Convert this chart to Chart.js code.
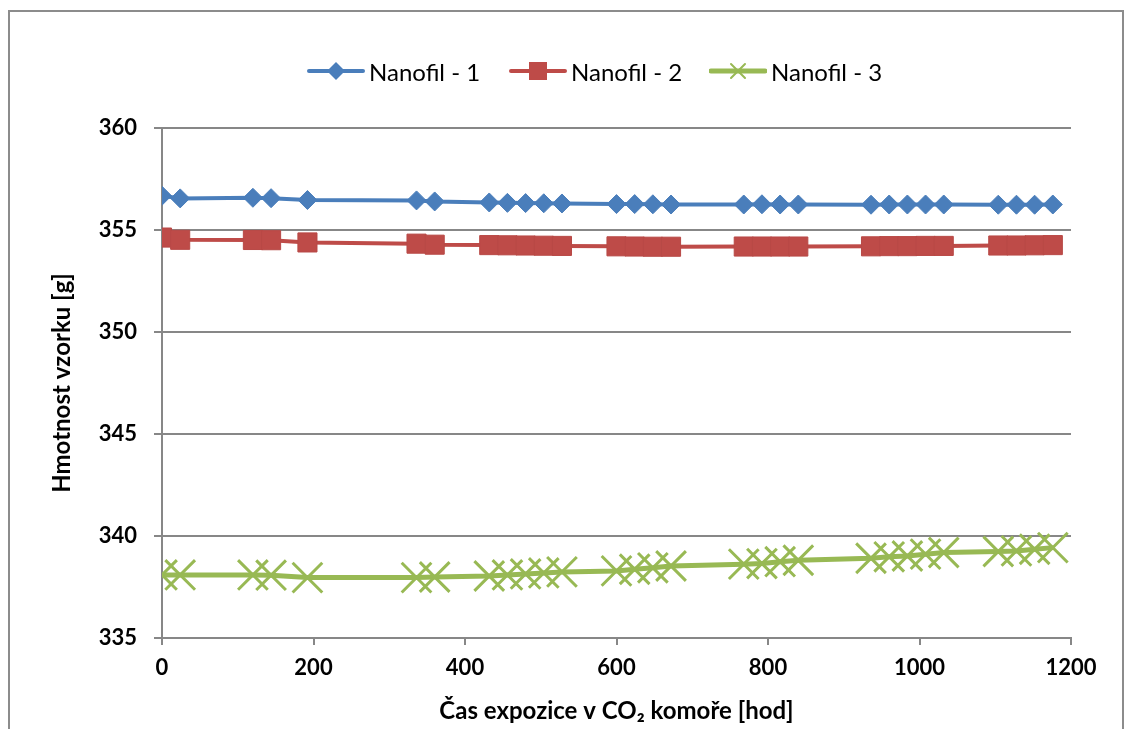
<!DOCTYPE html>
<html>
<head>
<meta charset="utf-8">
<script src="https://cdn.jsdelivr.net/npm/chart.js@4.4.1/dist/chart.umd.min.js"></script>
<style>
  body { margin: 0; background: #fff; font-family: Lato, "Liberation Sans", sans-serif; }
  #wrap { position: relative; width: 1131px; height: 729px; overflow: hidden; }
  #frame { position: absolute; left: 8px; top: 10px; width: 1116px; height: 740px; border: 2px solid #8c8c8c; box-sizing: border-box; }
  #chart { position: absolute; left: 0; top: 0; }
  .legend { position: absolute; top: 57px; left: 0; width: 1131px; height: 28px; }
  .item { position: absolute; top: 0; height: 28px; display: flex; align-items: center; font-size: 24px; color: #000; }
  .item canvas { margin-right: 4px; }
</style>
</head>
<body>
<div id="wrap">
  <div id="frame"></div>
  <canvas id="chart" width="1131" height="729"></canvas>
  <div class="legend" id="legend"></div>
</div>
<script>
// hours in the CO2 chamber
var hours = [0, 24, 120, 144, 192, 336, 360, 432, 456, 480, 504, 528, 600, 624, 648, 672,
  768, 792, 816, 840, 936, 960, 984, 1008, 1032, 1104, 1128, 1152, 1176];

var nanofil1 = [356.68, 356.55, 356.58, 356.56, 356.47, 356.45, 356.40, 356.35, 356.33, 356.32,
  356.31, 356.30, 356.27, 356.27, 356.26, 356.25, 356.25, 356.26, 356.25, 356.25, 356.24,
  356.25, 356.25, 356.25, 356.25, 356.24, 356.24, 356.24, 356.25];
var nanofil2 = [354.63, 354.52, 354.51, 354.50, 354.39, 354.33, 354.28, 354.26, 354.25, 354.24,
  354.23, 354.22, 354.20, 354.19, 354.18, 354.18, 354.19, 354.19, 354.19, 354.19, 354.20,
  354.21, 354.21, 354.22, 354.22, 354.24, 354.24, 354.25, 354.26];
var nanofil3 = [338.09, 338.09, 338.09, 338.08, 337.96, 337.96, 337.99, 338.04, 338.09, 338.14,
  338.19, 338.24, 338.29, 338.37, 338.44, 338.53, 338.62, 338.65, 338.74, 338.81, 338.91,
  338.98, 339.02, 339.11, 339.19, 339.24, 339.27, 339.35, 339.43];

var seriesNames = ["Nanofil - 1", "Nanofil - 2", "Nanofil - 3"];
var seriesColors = ["#4A7EBB", "#BE4B48", "#98B954"];
var yTitle = "Hmotnost vzorku [g]";
var xTitle = "Čas expozice v CO₂ komoře [hod]";

function points(vals) {
  return hours.map(function (h, i) { return { x: h, y: vals[i] }; });
}

var gridColor = "#878787";
var tickFont = { size: 22, weight: "bold" };
var titleFont = { size: 24, weight: "bold" };

var datasets = [
  {
    label: seriesNames[0], data: points(nanofil1),
    borderColor: seriesColors[0], backgroundColor: seriesColors[0], borderWidth: 4,
    pointStyle: "rectRot", pointRadius: 9.5, pointBorderWidth: 1, pointBorderColor: seriesColors[0]
  },
  {
    label: seriesNames[1], data: points(nanofil2),
    borderColor: seriesColors[1], backgroundColor: seriesColors[1], borderWidth: 4,
    pointStyle: "rect", pointRadius: 13.5, pointBorderWidth: 1, pointBorderColor: "#B84946"
  },
  {
    label: seriesNames[2], data: points(nanofil3),
    borderColor: seriesColors[2], backgroundColor: seriesColors[2], borderWidth: 5,
    pointStyle: "crossRot", pointRadius: 21, pointBorderWidth: 3, pointBorderColor: seriesColors[2]
  }
];

Chart.defaults.font.family = "Lato, 'Liberation Sans', sans-serif";
Chart.defaults.color = "#000";

new Chart(document.getElementById("chart"), {
  type: "line",
  data: { datasets: datasets },
  options: {
    responsive: false,
    animation: false,
    layout: { padding: { top: 128, left: 40, right: 60, bottom: 0 } },
    plugins: { legend: { display: false }, tooltip: { enabled: false } },
    elements: { line: { tension: 0 } },
    scales: {
      x: {
        type: "linear", min: 0, max: 1200,
        ticks: { stepSize: 200, font: tickFont, padding: 10, maxRotation: 0,
          callback: function (v) { return String(v); } },
        grid: { drawOnChartArea: false, drawTicks: true, tickLength: 7, color: gridColor, lineWidth: 2 },
        border: { display: true, color: gridColor, width: 2 },
        title: { display: true, text: xTitle, font: titleFont, padding: { top: 4, bottom: 3 } },
        afterFit: function (s) { s.height = 91; }
      },
      y: {
        min: 335, max: 360,
        ticks: { stepSize: 5, font: tickFont, padding: 17,
          callback: function (v) { return String(v); } },
        grid: { color: gridColor, lineWidth: 2, tickLength: 8 },
        border: { display: true, color: gridColor, width: 2 },
        title: { display: true, text: yTitle, font: titleFont, padding: { top: 8, bottom: 4 } },
        afterFit: function (s) { s.width = 122; }
      }
    }
  }
});

// legend: line sample with marker, like the spreadsheet legend
var legend = document.getElementById("legend");
var legendLeft = [307, 509, 709];
seriesNames.forEach(function (name, i) {
  var item = document.createElement("div");
  item.className = "item";
  item.style.left = legendLeft[i] + "px";
  var c = document.createElement("canvas");
  c.width = 58; c.height = 28;
  var g = c.getContext("2d");
  var col = seriesColors[i];
  g.strokeStyle = col; g.lineWidth = i == 2 ? 5 : 4; g.lineCap = "round";
  g.beginPath(); g.moveTo(2, 14); g.lineTo(56, 14); g.stroke();
  g.fillStyle = col;
  if (i == 0) {
    g.beginPath(); g.moveTo(29, 5); g.lineTo(38, 14); g.lineTo(29, 23); g.lineTo(20, 14); g.closePath(); g.fill();
  } else if (i == 1) {
    g.fillRect(20, 5, 18, 18);
  } else {
    g.lineWidth = 2;
    g.beginPath(); g.moveTo(22, 7); g.lineTo(36, 21); g.moveTo(36, 7); g.lineTo(22, 21); g.stroke();
  }
  item.appendChild(c);
  var t = document.createElement("span");
  t.textContent = name;
  item.appendChild(t);
  legend.appendChild(item);
});
</script>
</body>
</html>
